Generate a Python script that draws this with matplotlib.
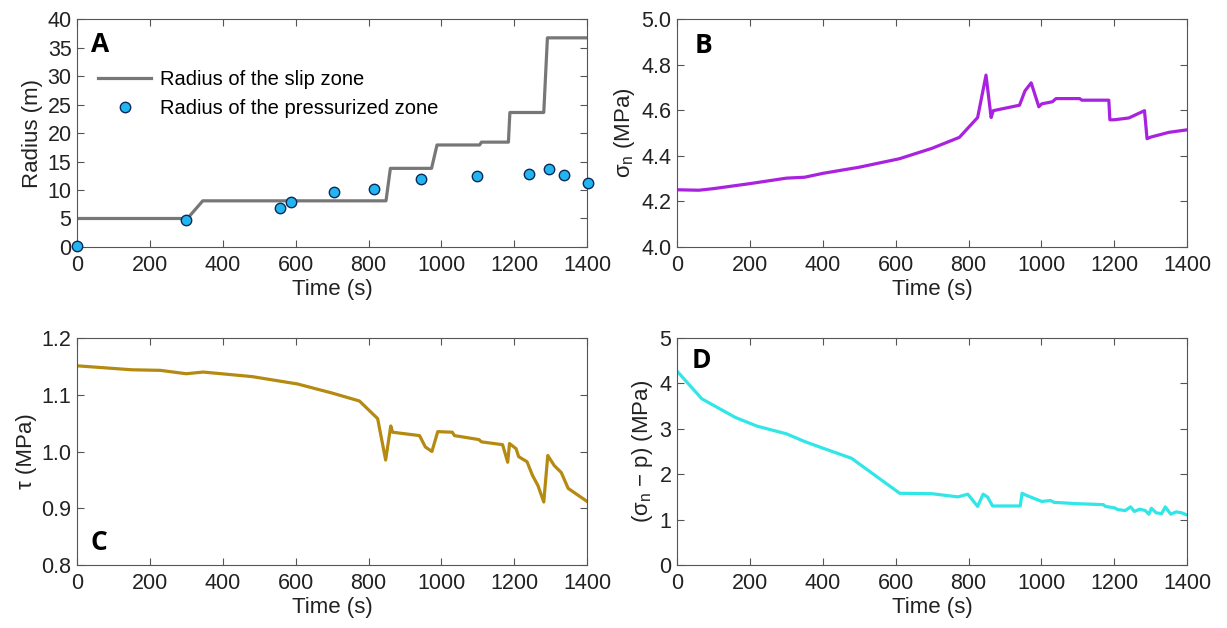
import matplotlib
matplotlib.use("Agg")
import matplotlib.pyplot as plt
from matplotlib.ticker import FormatStrFormatter

plt.rcParams['font.family'] = ['Liberation Sans', 'DejaVu Sans']
plt.rcParams['mathtext.fontset'] = 'custom'
plt.rcParams['mathtext.rm'] = 'Liberation Sans'
plt.rcParams['font.size'] = 15.5

# Panel A: radius of slip zone (stepwise) and pressurized zone (dots)
slip_t = [0, 303, 345, 848, 860, 973, 988, 1105, 1110, 1184, 1188, 1281, 1291, 1400]
slip_r = [5.0, 5.0, 8.1, 8.1, 13.8, 13.8, 17.9, 17.9, 18.4, 18.4, 23.6, 23.6, 36.7, 36.7]
press_t = [0, 298, 556, 587, 706, 814, 943, 1099, 1240, 1294, 1337, 1403]
press_r = [0.1, 4.8, 6.9, 7.85, 9.7, 10.2, 12.0, 12.4, 12.85, 13.6, 12.7, 11.3]

# Panel B: normal stress
sn_t = [0, 60, 100, 200, 300, 350, 400, 500, 610, 700, 775, 825, 848, 862, 868,
        940, 955, 972, 993, 1001, 1030, 1040, 1105, 1111, 1185, 1188, 1200, 1240,
        1283, 1290, 1300, 1350, 1400]
sn_v = [4.251, 4.249, 4.256, 4.278, 4.302, 4.306, 4.323, 4.350, 4.387, 4.433,
        4.481, 4.568, 4.754, 4.568, 4.598, 4.622, 4.685, 4.720, 4.615, 4.628,
        4.637, 4.651, 4.651, 4.644, 4.644, 4.558, 4.558, 4.566, 4.598, 4.475,
        4.482, 4.503, 4.514]

# Panel C: shear stress
tau_t = [0, 150, 228, 300, 346, 480, 605, 700, 775, 825, 847, 861, 866, 940, 956,
         974, 990, 1030, 1036, 1103, 1110, 1168, 1182, 1187, 1205, 1212, 1235, 1250,
         1265, 1281, 1292, 1310, 1329, 1348, 1375, 1400]
tau_v = [1.151, 1.144, 1.143, 1.137, 1.140, 1.132, 1.119, 1.103, 1.089, 1.058,
         0.985, 1.045, 1.034, 1.028, 1.008, 1.000, 1.035, 1.034, 1.028, 1.021,
         1.017, 1.012, 0.981, 1.014, 1.005, 0.991, 0.982, 0.958, 0.940, 0.911,
         0.993, 0.975, 0.963, 0.935, 0.923, 0.912]

# Panel D: effective normal stress
eff_t = [0, 68, 160, 219, 300, 350, 398, 479, 611, 700, 771, 798, 825, 840, 852,
         866, 942, 947, 960, 1001, 1025, 1035, 1100, 1170, 1176, 1200, 1210, 1230,
         1245, 1255, 1270, 1285, 1295, 1302, 1315, 1330, 1340, 1355, 1370, 1385, 1400]
eff_v = [4.27, 3.66, 3.25, 3.06, 2.89, 2.72, 2.58, 2.35, 1.58, 1.57, 1.50, 1.56,
         1.29, 1.56, 1.50, 1.30, 1.30, 1.58, 1.53, 1.40, 1.42, 1.38, 1.35, 1.33,
         1.29, 1.26, 1.22, 1.20, 1.28, 1.18, 1.23, 1.20, 1.12, 1.25, 1.15, 1.13,
         1.28, 1.12, 1.17, 1.15, 1.10]

fig = plt.figure(figsize=(12.27, 6.28), dpi=100)
ax_a = fig.add_axes([0.0628, 0.6067, 0.4157, 0.363])
ax_b = fig.add_axes([0.5518, 0.6067, 0.4157, 0.363])
ax_c = fig.add_axes([0.0628, 0.1003, 0.4157, 0.3615])
ax_d = fig.add_axes([0.5518, 0.1003, 0.4157, 0.3615])


def style(ax):
    ax.set_xlim(0, 1400)
    ax.set_xticks(range(0, 1401, 200))
    ax.tick_params(direction='in', top=True, right=True, length=5,
                   color='#555555', labelsize=15.5, labelcolor='#222222')
    ax.tick_params(axis='x', pad=6)
    ax.tick_params(axis='y', pad=4)
    for s in ax.spines.values():
        s.set_color('#555555')
    ax.set_xlabel('Time (s)', fontsize=16, labelpad=2, color='#222222')


def panel_letter(ax, letter, x, y):
    ax.text(x, y, letter, transform=ax.transAxes, fontsize=19,
            fontweight='bold', family='Open Sans', va='center')


# A
ax_a.plot(slip_t, slip_r, color='#777777', lw=2.3, label='Radius of the slip zone')
ax_a.plot(press_t, press_r, 'o', ms=7.5, mfc='#22b5f0', mec='#0a2a5a', mew=1.0,
          clip_on=False, zorder=5, label='Radius of the pressurized zone')
ax_a.set_ylim(0, 40)
ax_a.set_yticks(range(0, 41, 5))
ax_a.set_ylabel('Radius (m)', fontsize=16, labelpad=3, color='#222222')
style(ax_a)
ax_a.legend(loc='upper left', bbox_to_anchor=(0.018, 0.83), frameon=False,
            fontsize=14.5, handlelength=2.6, handletextpad=0.45, labelspacing=0.5,
            borderaxespad=0.2)
panel_letter(ax_a, 'A', 0.027, 0.888)

# B
ax_b.plot(sn_t, sn_v, color='#a822e0', lw=2.3)
ax_b.set_ylim(4.0, 5.0)
ax_b.set_yticks([4.0, 4.2, 4.4, 4.6, 4.8, 5.0])
ax_b.yaxis.set_major_formatter(FormatStrFormatter('%.1f'))
ax_b.set_ylabel(r'σ$_\mathrm{n}$ (MPa)', fontsize=16, labelpad=3, color='#222222')
style(ax_b)
panel_letter(ax_b, 'B', 0.035, 0.886)

# C
ax_c.plot(tau_t, tau_v, color='#b58a10', lw=2.3)
ax_c.set_ylim(0.8, 1.2)
ax_c.set_yticks([0.8, 0.9, 1.0, 1.1, 1.2])
ax_c.yaxis.set_major_formatter(FormatStrFormatter('%.1f'))
ax_c.set_ylabel('τ (MPa)', fontsize=16, labelpad=3, color='#222222')
style(ax_c)
panel_letter(ax_c, 'C', 0.027, 0.10)

# D
ax_d.plot(eff_t, eff_v, color='#30e6e6', lw=2.3)
ax_d.set_ylim(0, 5)
ax_d.set_yticks(range(0, 6))
ax_d.set_ylabel(r'(σ$_\mathrm{n}$ − p) (MPa)', fontsize=16, labelpad=3, color='#222222')
style(ax_d)
panel_letter(ax_d, 'D', 0.029, 0.903)

fig.savefig('out.png', dpi=100, facecolor='white')
